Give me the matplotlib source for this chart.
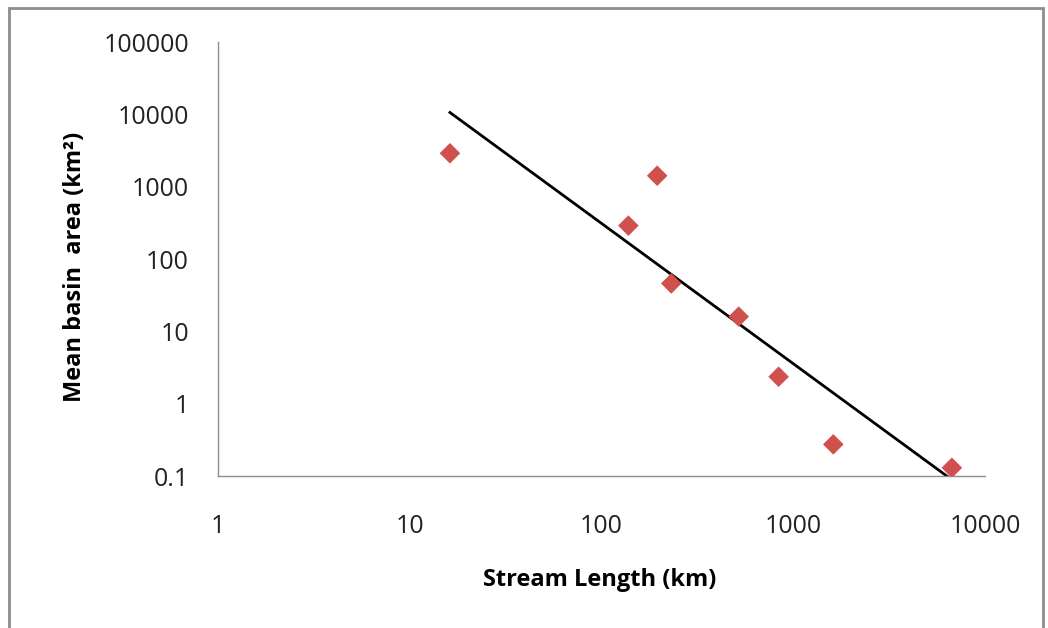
import matplotlib
matplotlib.use('Agg')
import matplotlib.pyplot as plt
from matplotlib.patches import Rectangle
from matplotlib.ticker import FixedLocator, FixedFormatter, NullLocator
import numpy as np

# data
stream_length = [16.2, 138, 195, 231, 519, 838, 1616, 6710]
basin_area = [2900, 290, 1420, 46, 16, 2.36, 0.274, 0.130]

x_ticks = [1, 10, 100, 1000, 10000]
x_labels = ['1', '10', '100', '1000', '10000']
y_ticks = [0.1, 1, 10, 100, 1000, 10000, 100000]
y_labels = ['0.1', '1', '10', '100', '1000', '10000', '100000']

MARKER_COLOR = '#D0504D'
AXIS_GREY = '#8C8C8C'

fig = plt.figure(figsize=(10.48, 6.28), dpi=100)
fig.patch.set_facecolor('white')
ax = fig.add_axes([0.208, 0.242, 0.732, 0.691])

ax.scatter(stream_length, basin_area, marker='D', s=110, color=MARKER_COLOR,
           edgecolors='none', zorder=3)

# power trendline fitted in log-log space
lx = np.log10(stream_length)
ly = np.log10(basin_area)
slope, icpt = np.polyfit(lx, ly, 1)
xs = np.array([min(stream_length), max(stream_length)])
ax.plot(xs, 10 ** (icpt + slope * np.log10(xs)), color='black', lw=2, zorder=2)

ax.set_xscale('log')
ax.set_yscale('log')
ax.set_xlim(1, 10000)
ax.set_ylim(0.1, 100000)

ax.xaxis.set_major_locator(FixedLocator(x_ticks))
ax.xaxis.set_major_formatter(FixedFormatter(x_labels))
ax.yaxis.set_major_locator(FixedLocator(y_ticks))
ax.yaxis.set_major_formatter(FixedFormatter(y_labels))
ax.xaxis.set_minor_locator(NullLocator())
ax.yaxis.set_minor_locator(NullLocator())
ax.tick_params(axis='x', length=0, pad=27, labelsize=18, colors='#222222')
ax.tick_params(axis='y', length=0, pad=21, labelsize=18, colors='#222222')
for lab in ax.get_xticklabels() + ax.get_yticklabels():
    lab.set_family('Open Sans')

for side in ['top', 'right']:
    ax.spines[side].set_visible(False)
for side in ['left', 'bottom']:
    ax.spines[side].set_color(AXIS_GREY)
    ax.spines[side].set_linewidth(1)
ax.patch.set_alpha(0)

fig.text(0.5725, 0.076, 'Stream Length (km)', ha='center', va='center',
         fontsize=17, fontweight='bold', family='Open Sans')
fig.text(0.072, 0.575, 'Mean basin  area (km\u00b2)', ha='center', va='center',
         rotation=90, fontsize=17, fontweight='bold', family='Open Sans')

# outer chart border
fig.add_artist(Rectangle((0.009, -0.02), 0.986, 1.007, transform=fig.transFigure,
                         fill=False, edgecolor=AXIS_GREY, lw=2))

plt.savefig('out.png', dpi=100, facecolor='white')
